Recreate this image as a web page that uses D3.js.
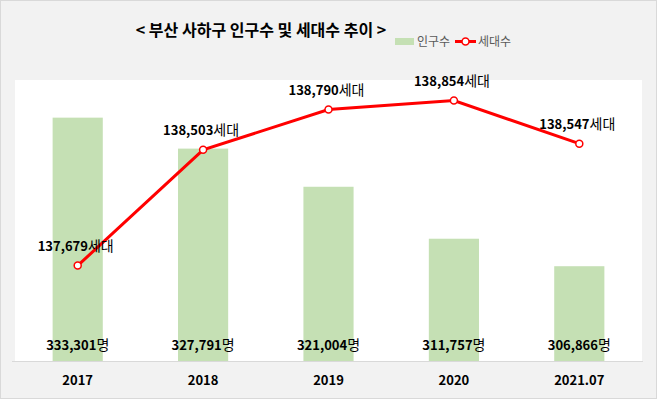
<!DOCTYPE html>
<html>
<head>
<meta charset="utf-8">
<script src="https://cdn.jsdelivr.net/npm/d3@7"></script>
<style>
  body { margin: 0; background: #fff; }
  text { font-family: "Noto Sans CJK KR", "Noto Sans", sans-serif; }
</style>
</head>
<body>
<div id="d3"></div>
<script>
// chart data
var years = ["2017", "2018", "2019", "2020", "2021.07"];
var population = [333301, 327791, 321004, 311757, 306866];
var households = [137679, 138503, 138790, 138854, 138547];

var W = 657, H = 399;
var plot = {left: 15, right: 642, top: 80, bottom: 361};

var svg = d3.select("#d3")
  .append("svg")
  .attr("width", W)
  .attr("height", H);

// outer background
svg.append("rect")
  .attr("x", 0.5).attr("y", 0.5)
  .attr("width", W - 1).attr("height", H - 1)
  .attr("fill", "#f2f2f2")
  .attr("stroke", "#d9d9d9");

// white plot area
svg.append("rect")
  .attr("x", plot.left).attr("y", plot.top)
  .attr("width", plot.right - plot.left)
  .attr("height", plot.bottom - plot.top)
  .attr("fill", "#fff");

var x = d3.scaleBand()
  .domain(years)
  .range([plot.left, plot.right])
  .paddingInner(0.6)
  .paddingOuter(0.3);

var yPop = d3.scaleLinear()
  .domain([290000, 340000])
  .range([plot.bottom, plot.top]);

var yHh = d3.scaleLinear()
  .domain([137000, 139000])
  .range([plot.bottom, plot.top]);

var fmt = d3.format(",");
var cx = function(d, i) { return x(years[i]) + x.bandwidth() / 2; };

// bars
svg.append("g")
  .selectAll("rect")
  .data(population)
  .enter()
  .append("rect")
    .attr("x", (d, i) => x(years[i]))
    .attr("y", d => yPop(d))
    .attr("width", x.bandwidth())
    .attr("height", d => plot.bottom - yPop(d))
    .attr("fill", "#c5e0b4");

// bar labels: bold number + lighter, taller unit
var barLabels = svg.append("g")
  .selectAll("text")
  .data(population)
  .enter()
  .append("text")
    .attr("x", cx)
    .attr("y", 350)
    .attr("text-anchor", "middle")
    .attr("fill", "#000");
barLabels.append("tspan")
  .attr("font-size", "13px")
  .attr("font-weight", "bold")
  .text(d => fmt(d));
barLabels.append("tspan")
  .attr("font-size", "14px")
  .attr("font-weight", "normal")
  .text("명");

// x axis
var xAxis = svg.append("g")
  .attr("transform", "translate(0," + plot.bottom + ")")
  .call(d3.axisBottom(x).tickSize(0).tickPadding(15));
xAxis.select(".domain")
  .attr("stroke", "#d9d9d9")
  .attr("d", "M" + (plot.left - 3) + ",0.5H" + (plot.right + 1));
xAxis.selectAll("text")
  .attr("font-size", "13px")
  .attr("font-weight", "bold")
  .attr("fill", "#000")
  .style("font-family", "'Noto Sans CJK KR', sans-serif");

// household line
svg.append("path")
  .datum(households)
  .attr("fill", "none")
  .attr("stroke", "#ff0000")
  .attr("stroke-width", 3)
  .attr("d", d3.line()
    .x(cx)
    .y(d => yHh(d)));

svg.append("g")
  .selectAll("circle")
  .data(households)
  .enter()
  .append("circle")
    .attr("cx", cx)
    .attr("cy", d => yHh(d))
    .attr("r", 3.5)
    .attr("fill", "#fff")
    .attr("stroke", "#ff0000")
    .attr("stroke-width", 1.5);

var lineLabels = svg.append("g")
  .selectAll("text")
  .data(households)
  .enter()
  .append("text")
    .attr("x", (d, i) => cx(d, i) - 2)
    .attr("y", d => yHh(d) - 15)
    .attr("text-anchor", "middle")
    .attr("fill", "#000");
lineLabels.append("tspan")
  .attr("font-size", "13px")
  .attr("font-weight", "bold")
  .text(d => fmt(d));
lineLabels.append("tspan")
  .attr("font-size", "14px")
  .attr("font-weight", "normal")
  .text("세대");

// title
svg.append("text")
  .attr("x", 261)
  .attr("y", 36)
  .attr("text-anchor", "middle")
  .attr("font-size", "16px")
  .attr("font-weight", "bold")
  .attr("fill", "#000")
  .text("< 부산 사하구 인구수 및 세대수 추이 >");

// legend
var legend = svg.append("g").attr("font-size", "12px").attr("fill", "#595959");
legend.append("rect")
  .attr("x", 395).attr("y", 38)
  .attr("width", 19).attr("height", 7)
  .attr("fill", "#c5e0b4");
legend.append("text")
  .attr("x", 417).attr("y", 46)
  .attr("fill", "#595959")
  .text("인구수");
legend.append("line")
  .attr("x1", 455).attr("x2", 476)
  .attr("y1", 41.5).attr("y2", 41.5)
  .attr("stroke", "#ff0000")
  .attr("stroke-width", 3);
legend.append("circle")
  .attr("cx", 465.5).attr("cy", 41.5)
  .attr("r", 3.5)
  .attr("fill", "#fff")
  .attr("stroke", "#ff0000")
  .attr("stroke-width", 1.5);
legend.append("text")
  .attr("x", 478).attr("y", 46)
  .attr("fill", "#595959")
  .text("세대수");
</script>
</body>
</html>
